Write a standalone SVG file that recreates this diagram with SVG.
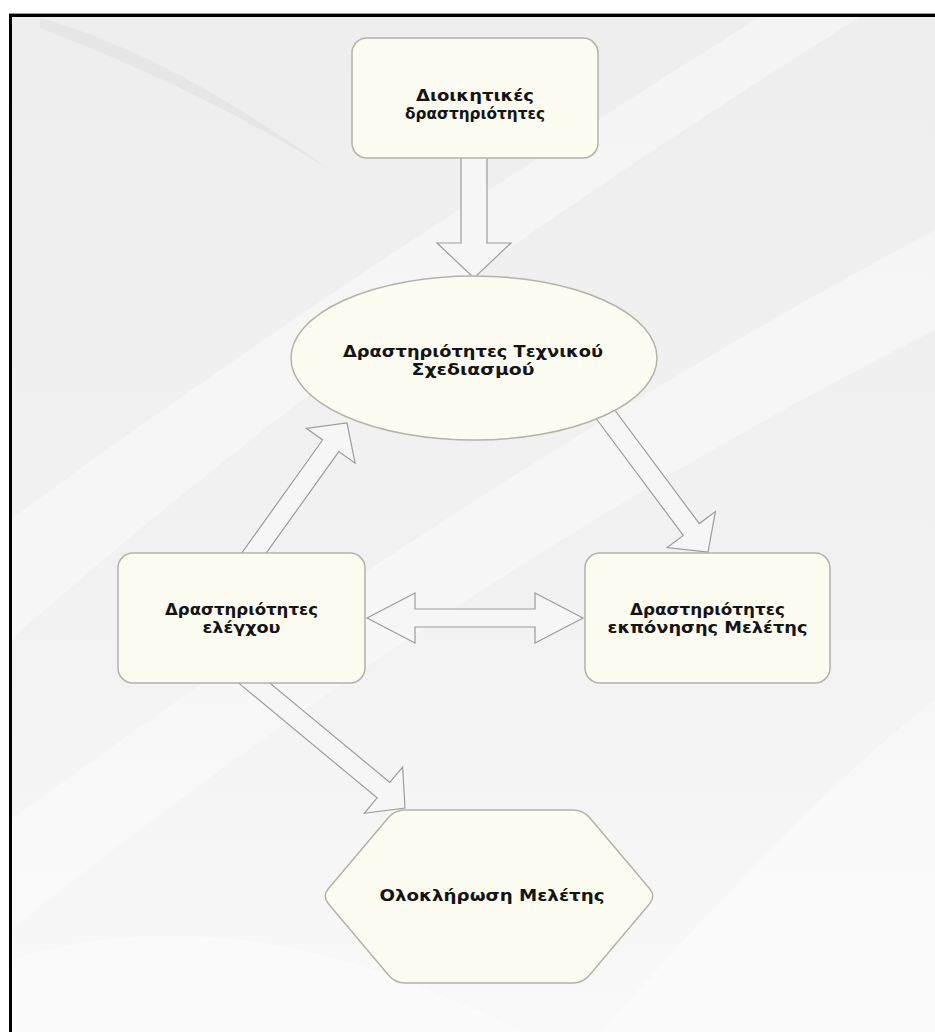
<svg xmlns="http://www.w3.org/2000/svg" width="935" height="1032" viewBox="0 0 935 1032">
  <defs>
    <linearGradient id="bg" x1="0" y1="0" x2="0" y2="1">
      <stop offset="0" stop-color="#eeeeee"/>
      <stop offset="0.6" stop-color="#f2f2f2"/>
      <stop offset="1" stop-color="#f9f9f9"/>
    </linearGradient>
    <style>
      .node { fill: #fcfcf1; stroke: #b3b3aa; stroke-width: 1.5; }
      .arrow { fill: #f6f6f6; stroke: #9c9c9c; stroke-width: 1.2; stroke-linejoin: miter; }
      .label { font-family: "DejaVu Sans", "Liberation Sans", sans-serif; font-weight: bold; font-size: 16px; fill: #141414; text-anchor: middle; }
      .swoosh { fill: #ffffff; opacity: 0.38; }
      .swooshDark { fill: #e3e3e3; opacity: 0.7; }
    </style>
  </defs>

  <!-- page background and frame -->
  <rect x="0" y="0" width="935" height="1032" fill="#ffffff"/>
  <rect x="10" y="15" width="925" height="1017" fill="url(#bg)"/>
  <g id="background">
    <path class="swooshDark" d="M40,18 C120,40 220,90 330,170 C250,120 150,70 40,28 Z"/>
    <path class="swoosh" d="M10,520 C200,380 420,230 760,17 L860,17 C520,230 260,420 10,640 Z"/>
    <path class="swoosh" d="M10,820 C260,640 560,430 935,230 L935,330 C600,500 300,700 10,930 Z"/>
    <path class="swoosh" d="M600,1032 C720,900 830,780 935,700 L935,1032 Z"/>
    <path class="swoosh" d="M10,1032 L10,960 C200,900 380,960 520,1032 Z"/>
  </g>
  <rect x="9" y="13" width="926" height="1" fill="#9a9a9a"/>
  <rect x="9" y="14" width="926" height="3" fill="#000000"/>
  <rect x="9" y="14" width="3" height="1018" fill="#000000"/>

  <!-- connectors -->
  <g id="connectors">
    <polygon class="arrow" points="461,150 487,150 487,243 511,243 474,278 437,243 461,243"/>
    <polygon class="arrow" points="256.3,566.9 338.8,451.6 355.1,463.2 347,423 306.3,428.3 322.6,440 240.1,555.3"/>
    <polygon class="arrow" points="595,417 683.3,535.5 667.2,547.5 708,552 715.4,511.6 699.3,523.6 611,405"/>
    <polygon class="arrow" points="367,618 415,593 415,609 535,609 535,593 583,618 535,643 535,627 415,627 415,643"/>
    <polygon class="arrow" points="235.6,680.6 377.1,797.8 364.3,813.3 405,808 402.6,767 389.8,782.4 248.3,665.2"/>
  </g>

  <!-- nodes -->
  <g id="node-admin">
    <rect class="node" x="352" y="38" width="246" height="120" rx="15" ry="15"/>
    <text class="label" x="475" y="101" textLength="118" lengthAdjust="spacingAndGlyphs">Διοικητικές</text>
    <text class="label" x="475" y="119" textLength="140" lengthAdjust="spacingAndGlyphs">δραστηριότητες</text>
  </g>
  <g id="node-design">
    <ellipse class="node" cx="474" cy="358" rx="183" ry="82"/>
    <text class="label" x="473" y="357" textLength="260" lengthAdjust="spacingAndGlyphs">Δραστηριότητες Τεχνικού</text>
    <text class="label" x="473" y="375" textLength="123" lengthAdjust="spacingAndGlyphs">Σχεδιασμού</text>
  </g>
  <g id="node-control">
    <rect class="node" x="118" y="553" width="247" height="130" rx="15" ry="15"/>
    <text class="label" x="241.5" y="615" textLength="153" lengthAdjust="spacingAndGlyphs">Δραστηριότητες</text>
    <text class="label" x="241.5" y="633" textLength="78" lengthAdjust="spacingAndGlyphs">ελέγχου</text>
  </g>
  <g id="node-study">
    <rect class="node" x="585" y="553" width="245" height="130" rx="15" ry="15"/>
    <text class="label" x="707.5" y="615" textLength="155" lengthAdjust="spacingAndGlyphs">Δραστηριότητες</text>
    <text class="label" x="707.5" y="633" textLength="200" lengthAdjust="spacingAndGlyphs">εκπόνησης Μελέτης</text>
  </g>
  <g id="node-complete">
    <path class="node" d="M328.5,888.4 L388.5,817.6 Q395,810 405,810 L573,810 Q583,810 589.5,817.6 L649.5,888.4 Q656,896 649.6,903.7 L589.4,975.3 Q583,983 573,983 L405,983 Q395,983 388.6,975.3 L328.4,903.7 Q322,896 328.5,888.4 Z"/>
    <text class="label" x="492" y="901" textLength="225" lengthAdjust="spacingAndGlyphs">Ολοκλήρωση Μελέτης</text>
  </g>
</svg>
